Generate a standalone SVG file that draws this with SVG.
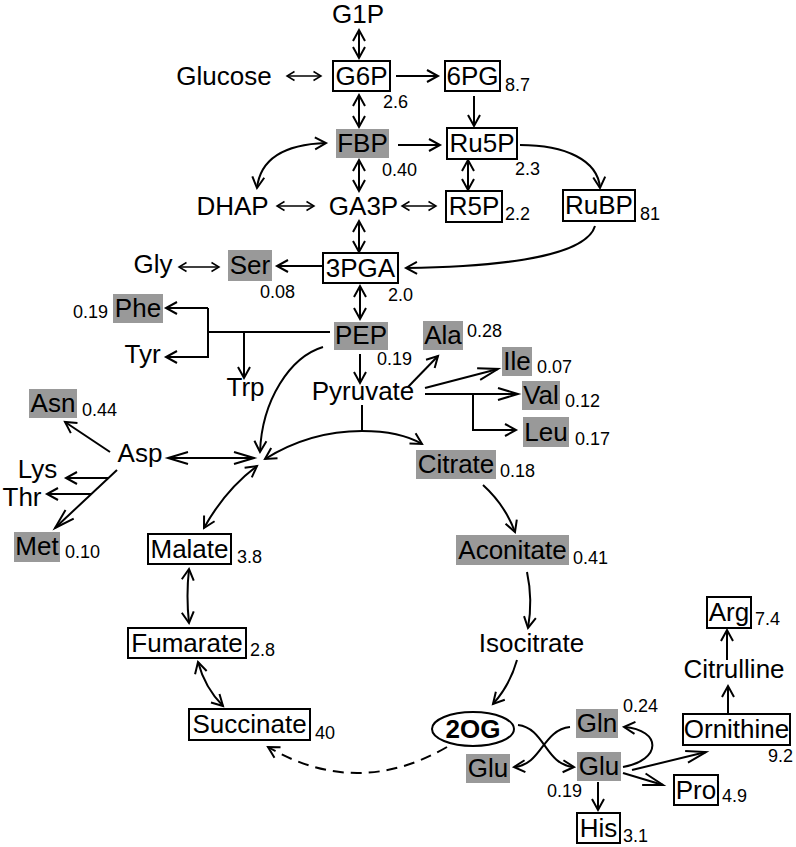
<svg xmlns="http://www.w3.org/2000/svg" width="796" height="847" viewBox="0 0 796 847">
<style>
text{font-family:"Liberation Sans",Arial,Helvetica,sans-serif;fill:#000}
.t{font-size:26px;text-anchor:middle}
.n{font-size:18px}
.b{fill:#fff;stroke:#000;stroke-width:2}
.g{fill:#999;stroke:none}
.c{fill:none;stroke:#000;stroke-width:2}
.th{fill:none;stroke:#000;stroke-width:1.5}
.d{stroke-dasharray:11 7}
</style>
<defs>
<marker id="a" viewBox="0 0 14 14" refX="12" refY="7" markerWidth="14" markerHeight="14" markerUnits="userSpaceOnUse" orient="auto-start-reverse" style="overflow:visible"><path d="M1,1 L12,7 L1,13" fill="none" stroke="#000" stroke-width="2"/></marker>
<marker id="L" viewBox="0 0 22 14" refX="21" refY="7" markerWidth="22" markerHeight="14" markerUnits="userSpaceOnUse" orient="auto-start-reverse" style="overflow:visible"><path d="M1,1 L21,7 L1,13" fill="none" stroke="#000" stroke-width="2"/></marker>
<marker id="s" viewBox="0 0 10 10" refX="8" refY="5" markerWidth="10" markerHeight="10" markerUnits="userSpaceOnUse" orient="auto-start-reverse" style="overflow:visible"><path d="M0.5,0.5 L8,5 L0.5,9.5" fill="none" stroke="#000" stroke-width="1.5"/></marker>
</defs>

<g id="connectors">
<line class="c" x1="359" y1="30" x2="359" y2="58" marker-start="url(#a)" marker-end="url(#a)"/>
<line class="th" x1="287" y1="76" x2="321" y2="76" marker-start="url(#s)" marker-end="url(#s)"/>
<line class="c" x1="396" y1="76" x2="438" y2="76" marker-end="url(#a)"/>
<line class="c" x1="359" y1="95" x2="359" y2="127" marker-start="url(#a)" marker-end="url(#a)"/>
<line class="c" x1="474" y1="96" x2="474" y2="126" marker-end="url(#a)"/>
<line class="c" x1="398" y1="145" x2="440" y2="145" marker-end="url(#a)"/>
<path class="c" d="M257,188 Q262,145 326,143" marker-start="url(#a)" marker-end="url(#a)"/>
<line class="c" x1="359" y1="160" x2="359" y2="191" marker-start="url(#a)" marker-end="url(#a)"/>
<line class="c" x1="468" y1="160" x2="468" y2="190" marker-start="url(#a)" marker-end="url(#a)"/>
<path class="c" d="M520,145 C565,145 598,160 600,188" marker-end="url(#a)"/>
<line class="th" x1="277" y1="206" x2="314" y2="206" marker-start="url(#s)" marker-end="url(#s)"/>
<line class="th" x1="402" y1="206" x2="436" y2="206" marker-start="url(#s)" marker-end="url(#s)"/>
<line class="c" x1="359" y1="221" x2="359" y2="252" marker-start="url(#a)" marker-end="url(#a)"/>
<path class="c" d="M595,226 C585,260 480,267 406,268" marker-end="url(#a)"/>
<line class="c" x1="322" y1="266" x2="277" y2="266" marker-end="url(#a)"/>
<line class="th" x1="179" y1="267" x2="219" y2="267" marker-start="url(#s)" marker-end="url(#s)"/>
<line class="c" x1="360" y1="286" x2="360" y2="319" marker-start="url(#a)" marker-end="url(#a)"/>
<path class="c" d="M330,332 L208,332 M208,308 L208,358"/>
<line class="c" x1="208" y1="308" x2="166" y2="308" marker-end="url(#a)"/>
<line class="c" x1="208" y1="357" x2="166" y2="357" marker-end="url(#a)"/>
<line class="c" x1="244" y1="332" x2="244" y2="378" marker-end="url(#a)"/>
<line class="c" x1="360" y1="354" x2="360" y2="383" marker-end="url(#a)"/>
<line class="c" x1="408" y1="387" x2="438" y2="356" marker-end="url(#a)"/>
<line class="c" x1="425" y1="388" x2="498" y2="369" marker-end="url(#L)"/>
<line class="c" x1="425" y1="394" x2="518" y2="394" marker-end="url(#L)"/>
<path class="c" d="M473,394 L473,430 L516,430" marker-end="url(#a)"/>
<path class="c" d="M323,347 C290,357 262,400 260,452" marker-end="url(#a)"/>
<line class="c" x1="362" y1="405" x2="362" y2="431"/>
<path class="c" d="M362,431 Q310,431 265,459" marker-end="url(#a)"/>
<path class="c" d="M362,431 Q400,431 422,444" marker-end="url(#a)"/>
<line class="c" x1="168" y1="458" x2="254" y2="458" marker-start="url(#L)" marker-end="url(#L)"/>
<line class="c" x1="110" y1="452" x2="65" y2="422" marker-end="url(#a)"/>
<line class="c" x1="117" y1="470" x2="55" y2="528" marker-end="url(#L)"/>
<line class="c" x1="108" y1="478" x2="66" y2="478" marker-end="url(#a)"/>
<line class="c" x1="91" y1="494" x2="47" y2="494" marker-end="url(#a)"/>
<path class="c" d="M257,466 Q225,490 204,528" marker-start="url(#a)" marker-end="url(#a)"/>
<path class="c" d="M189,569 Q186,596 189,623" marker-start="url(#a)" marker-end="url(#a)"/>
<path class="c" d="M198,662 Q205,688 223,706" marker-start="url(#a)" marker-end="url(#a)"/>
<path class="c" d="M483,485 Q505,505 515,532" marker-end="url(#a)"/>
<path class="c" d="M527,572 Q533,600 528,628" marker-end="url(#a)"/>
<path class="c" d="M517,660 Q510,685 493,704" marker-end="url(#a)"/>
<path class="c d" d="M447,747 Q357,799 268,747" marker-end="url(#a)"/>
<path class="c" d="M518,725 C545,728 545,765 574,767" marker-end="url(#a)"/>
<path class="c" d="M570,727 C542,730 542,765 514,767" marker-end="url(#a)"/>
<path class="c" d="M623,767 C662,760 662,730 624,727" marker-end="url(#a)"/>
<line class="c" x1="632" y1="770" x2="706" y2="752" marker-end="url(#L)"/>
<line class="c" x1="623" y1="773" x2="663" y2="785" marker-end="url(#L)"/>
<line class="c" x1="598" y1="782" x2="598" y2="810" marker-end="url(#a)"/>
<line class="c" x1="728" y1="713" x2="728" y2="686" marker-end="url(#a)"/>
<line class="c" x1="727" y1="660" x2="727" y2="630" marker-end="url(#a)"/>
</g>

<g id="G1P"><text class="t" x="358" y="23" font-size="25">G1P</text></g>
<g id="Glucose"><text class="t" x="224" y="85">Glucose</text></g>
<g id="G6P"><rect class="b" x="333" y="61" width="57" height="30"/><text class="t" x="361.5" y="85">G6P</text><text class="n" x="383" y="108">2.6</text></g>
<g id="PG6"><rect class="b" x="445" y="61" width="55" height="30"/><text class="t" x="472.5" y="85">6PG</text><text class="n" x="505" y="91">8.7</text></g>
<g id="FBP"><rect class="g" x="336" y="129" width="53" height="29"/><text class="t" x="362.5" y="152">FBP</text><text class="n" x="382" y="176">0.40</text></g>
<g id="Ru5P"><rect class="b" x="447" y="128" width="70" height="31"/><text class="t" x="482" y="152">Ru5P</text><text class="n" x="515" y="175">2.3</text></g>
<g id="DHAP"><text class="t" x="232.5" y="215">DHAP</text></g>
<g id="GA3P"><text class="t" x="363.5" y="215">GA3P</text></g>
<g id="R5P"><rect class="b" x="446" y="191" width="56" height="31"/><text class="t" x="474" y="215">R5P</text><text class="n" x="505" y="220">2.2</text></g>
<g id="RuBP"><rect class="b" x="563" y="190" width="72" height="31"/><text class="t" x="599" y="214">RuBP</text><text class="n" x="640" y="220">81</text></g>
<g id="Gly"><text class="t" x="153" y="273">Gly</text></g>
<g id="Ser"><rect class="g" x="228" y="250" width="44" height="31"/><text class="t" x="250" y="274">Ser</text><text class="n" x="260" y="298">0.08</text></g>
<g id="PGA3"><rect class="b" x="323" y="253" width="75" height="30"/><text class="t" x="360.5" y="277">3PGA</text><text class="n" x="388" y="301">2.0</text></g>
<g id="Phe"><rect class="g" x="113" y="294" width="50" height="29"/><text class="t" x="138" y="317">Phe</text><text class="n" x="73" y="318">0.19</text></g>
<g id="Tyr"><text class="t" x="142.5" y="363">Tyr</text></g>
<g id="Trp"><text class="t" x="245.5" y="396">Trp</text></g>
<g id="PEP"><rect class="g" x="334" y="322" width="54" height="28"/><text class="t" x="361" y="344">PEP</text><text class="n" x="377" y="365">0.19</text></g>
<g id="Ala"><rect class="g" x="423" y="321" width="40" height="29"/><text class="t" x="443" y="344">Ala</text><text class="n" x="467" y="337">0.28</text></g>
<g id="Pyruvate"><text class="t" x="363" y="400">Pyruvate</text></g>
<g id="Ile"><rect class="g" x="502" y="347" width="30" height="29"/><text class="t" x="517" y="370">Ile</text><text class="n" x="537" y="373">0.07</text></g>
<g id="Val"><rect class="g" x="522" y="381" width="38" height="29"/><text class="t" x="541" y="404">Val</text><text class="n" x="565" y="407">0.12</text></g>
<g id="Leu"><rect class="g" x="523" y="417" width="46" height="30"/><text class="t" x="546" y="441">Leu</text><text class="n" x="575" y="445">0.17</text></g>
<g id="Asn"><rect class="g" x="29" y="389" width="48" height="29"/><text class="t" x="53" y="412">Asn</text><text class="n" x="82" y="416">0.44</text></g>
<g id="Asp"><text class="t" x="140" y="462">Asp</text></g>
<g id="Lys"><text class="t" x="37.5" y="478" font-size="24">Lys</text></g>
<g id="Thr"><text class="t" x="22" y="506" font-size="24">Thr</text></g>
<g id="Met"><rect class="g" x="14" y="532" width="46" height="30"/><text class="t" x="37" y="555">Met</text><text class="n" x="65" y="558">0.10</text></g>
<g id="Malate"><rect class="b" x="148" y="534" width="83" height="30"/><text class="t" x="189.5" y="558">Malate</text><text class="n" x="237" y="563">3.8</text></g>
<g id="Fumarate"><rect class="b" x="128" y="628" width="118" height="30"/><text class="t" x="187" y="652">Fumarate</text><text class="n" x="250" y="656">2.8</text></g>
<g id="Succinate"><rect class="b" x="189" y="709" width="121" height="31"/><text class="t" x="249.5" y="733">Succinate</text><text class="n" x="315" y="739">40</text></g>
<g id="Citrate"><rect class="g" x="416" y="450" width="80" height="29"/><text class="t" x="456" y="473">Citrate</text><text class="n" x="500" y="477">0.18</text></g>
<g id="Aconitate"><rect class="g" x="456" y="535" width="113" height="30"/><text class="t" x="512.5" y="559">Aconitate</text><text class="n" x="573" y="564">0.41</text></g>
<g id="Isocitrate"><text class="t" x="531.5" y="652">Isocitrate</text></g>
<g id="OG2"><ellipse cx="473" cy="729" rx="41" ry="17" fill="#fff" stroke="#000" stroke-width="2"/><text class="t" x="473" y="738" font-weight="bold">2OG</text></g>
<g id="Gln"><rect class="g" x="576" y="709" width="42" height="29"/><text class="t" x="597" y="732">Gln</text><text class="n" x="623" y="712">0.24</text></g>
<g id="GluL"><rect class="g" x="466" y="754" width="44" height="29"/><text class="t" x="488" y="777">Glu</text></g>
<g id="GluR"><rect class="g" x="577" y="752" width="44" height="29"/><text class="t" x="599" y="775">Glu</text><text class="n" x="547" y="797">0.19</text></g>
<g id="Pro"><rect class="b" x="674" y="775" width="44" height="30"/><text class="t" x="696" y="799">Pro</text><text class="n" x="722" y="802">4.9</text></g>
<g id="His"><rect class="b" x="577" y="813" width="43" height="30"/><text class="t" x="598.5" y="837">His</text><text class="n" x="623" y="842">3.1</text></g>
<g id="Ornithine"><rect class="b" x="683" y="714" width="107" height="31"/><text class="t" x="736.5" y="738">Ornithine</text><text class="n" x="768" y="762">9.2</text></g>
<g id="Citrulline"><text class="t" x="734" y="678">Citrulline</text></g>
<g id="Arg"><rect class="b" x="707" y="597" width="44" height="31"/><text class="t" x="729" y="621">Arg</text><text class="n" x="755" y="625">7.4</text></g>
</svg>
